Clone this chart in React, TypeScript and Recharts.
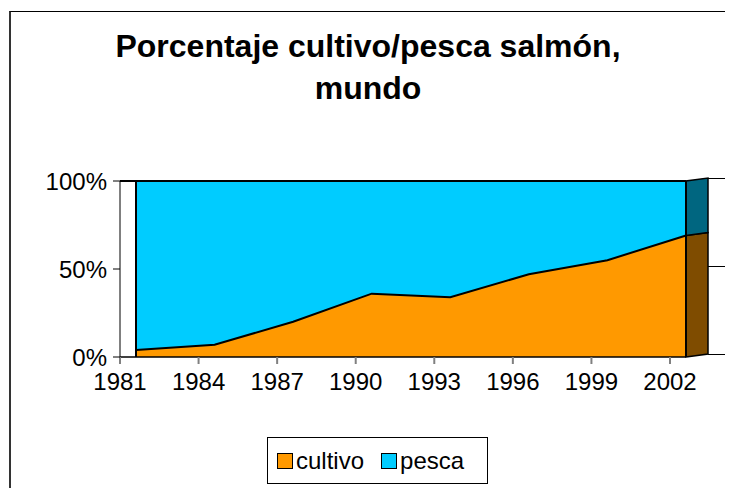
import {
  ComposedChart,
  Area,
  Line,
  XAxis,
  YAxis,
  Legend,
  ReferenceLine,
  ReferenceArea,
} from 'recharts'

const years = ['1981', '1984', '1987', '1990', '1993', '1996', '1999', '2002']
const cultivo = [4, 7, 20, 36, 34, 47, 55, 69]
const pesca = [96, 93, 80, 64, 66, 53, 45, 31]
const pctTicks = [0, 50, 100]

const ORANGE = '#FF9900'
const BLUE = '#00CCFF'
const ORANGE_SIDE = '#7F4C00'
const BLUE_SIDE = '#006680'
const FONT = '"Liberation Sans", Arial, sans-serif'

const data = years.map((year, i) => ({
  year,
  cultivo: cultivo[i],
  pesca: pesca[i],
}))

const lastYear = years[years.length - 1]
const lastCultivo = cultivo[cultivo.length - 1]

// depth of the fake 3D side face
const DX = 22
const DY = -3

const sideFace = (fill: string) => (props: any) => {
  const { x, y, width, height } = props
  const x0 = x + (width || 0)
  const pts = [
    [x0, y + height],
    [x0 + DX, y + height + DY],
    [x0 + DX, y + DY],
    [x0, y],
  ]
    .map((p) => p.join(','))
    .join(' ')
  return <polygon points={pts} fill={fill} stroke="#000" strokeWidth={1.5} />
}

const rightTick = (props: any) => {
  const { x, y } = props
  const yy = Math.round(y + DY) + 0.5
  return (
    <line x1={x + DX} x2={x + DX + 17} y1={yy} y2={yy} stroke="#000" strokeWidth={1} />
  )
}

const legendNames: Record<string, string> = { cultivo: 'cultivo', pesca: 'pesca' }

const renderLegend = () => {
  const items = [
    { key: 'cultivo', color: ORANGE },
    { key: 'pesca', color: BLUE },
  ]
  return (
    <div
      style={{
        boxSizing: 'border-box',
        width: 221,
        height: 47,
        border: '1px solid #000',
        display: 'flex',
        alignItems: 'center',
        paddingLeft: 9,
        fontFamily: FONT,
        fontSize: 24,
        color: '#000',
        background: '#fff',
      }}
    >
      {items.map((it, i) => (
        <div
          key={it.key}
          style={{ display: 'flex', alignItems: 'center', marginLeft: i ? 17 : 0 }}
        >
          <span
            style={{
              boxSizing: 'border-box',
              display: 'inline-block',
              width: 16,
              height: 16,
              background: it.color,
              border: '1px solid #000',
              marginRight: 3,
            }}
          />
          <span>{legendNames[it.key]}</span>
        </div>
      ))}
    </div>
  )
}

export default function App() {
  return (
    <div style={{ position: 'relative', width: 725, height: 480, fontFamily: FONT }}>
      <style>{'html{overflow:hidden}'}</style>
      <div
        style={{
          position: 'absolute',
          left: 1,
          top: 3,
          width: 722,
          height: 477,
          borderLeft: '2px solid #333',
          borderTop: '1px solid #000',
        }}
      />
      <div
        style={{
          position: 'absolute',
          left: 0,
          top: 17,
          width: 720,
          textAlign: 'center',
          fontSize: 32,
          fontWeight: 'bold',
          lineHeight: '42px',
          color: '#000',
        }}
      >
        Porcentaje cultivo/pesca salmón,
        <br />
        mundo
      </div>
      <div style={{ position: 'absolute', left: 0, top: 0 }}>
        <ComposedChart
          width={725}
          height={480}
          data={data}
          margin={{ top: 173, right: 0, bottom: 101, left: 0 }}
        >
          <XAxis
            xAxisId="data"
            dataKey="year"
            scale="point"
            padding={{ left: 16, right: 0 }}
            height={0}
            hide
          />
          <XAxis
            xAxisId="lab"
            dataKey="year"
            scale="point"
            padding={{ left: 0, right: 16 }}
            height={30}
            axisLine={{ stroke: '#000', strokeWidth: 1.5 }}
            tickLine={{ stroke: '#808080', strokeWidth: 2 }}
            tickSize={7}
            tickMargin={9}
            interval={0}
            tick={{ fill: '#000', fontSize: 24, fontFamily: FONT }}
          />
          <YAxis
            yAxisId="left"
            domain={[0, 100]}
            ticks={pctTicks}
            width={112}
            axisLine={{ stroke: '#000', strokeWidth: 1 }}
            tickLine={{ stroke: '#000', strokeWidth: 1 }}
            tickSize={7}
            tickMargin={6}
            tickFormatter={(v: number) => `${v}%`}
            tick={{ fill: '#000', fontSize: 24, fontFamily: FONT }}
          />
          <YAxis
            yAxisId="right"
            orientation="right"
            domain={[0, 100]}
            ticks={pctTicks}
            width={47}
            axisLine={false}
            tickLine={false}
            tickSize={0}
            tickMargin={0}
            tick={rightTick}
          />
          <Area
            xAxisId="data"
            yAxisId="left"
            type="linear"
            dataKey="cultivo"
            stackId="1"
            stroke="none"
            fill={ORANGE}
            fillOpacity={1}
            isAnimationActive={false}
          />
          <Area
            xAxisId="data"
            yAxisId="left"
            type="linear"
            dataKey="pesca"
            stackId="1"
            stroke="none"
            fill={BLUE}
            fillOpacity={1}
            isAnimationActive={false}
          />
          <Line
            xAxisId="data"
            yAxisId="left"
            type="linear"
            dataKey="cultivo"
            stroke="#000"
            strokeWidth={2}
            dot={false}
            legendType="none"
            isAnimationActive={false}
          />
          {/* invisible series so the right axis has data bound to it */}
          <Line
            xAxisId="data"
            yAxisId="right"
            type="linear"
            dataKey="pesca"
            stroke="none"
            dot={false}
            legendType="none"
            isAnimationActive={false}
          />
          <ReferenceLine xAxisId="data" yAxisId="left" y={100} stroke="#000" strokeWidth={2} />
          <ReferenceLine xAxisId="data" yAxisId="left" x={years[0]} stroke="#000" strokeWidth={2} />
          <ReferenceLine xAxisId="data" yAxisId="left" x={lastYear} stroke="#000" strokeWidth={2} />
          <ReferenceArea
            xAxisId="data"
            yAxisId="left"
            x1={lastYear}
            x2={lastYear}
            y1={0}
            y2={lastCultivo}
            shape={sideFace(ORANGE_SIDE)}
          />
          <ReferenceArea
            xAxisId="data"
            yAxisId="left"
            x1={lastYear}
            x2={lastYear}
            y1={lastCultivo}
            y2={100}
            shape={sideFace(BLUE_SIDE)}
          />
          <Legend
            layout="horizontal"
            verticalAlign="middle"
            align="center"
            content={renderLegend}
            wrapperStyle={{ left: 259, top: 429, width: 221, height: 47 }}
          />
        </ComposedChart>
      </div>
    </div>
  )
}
